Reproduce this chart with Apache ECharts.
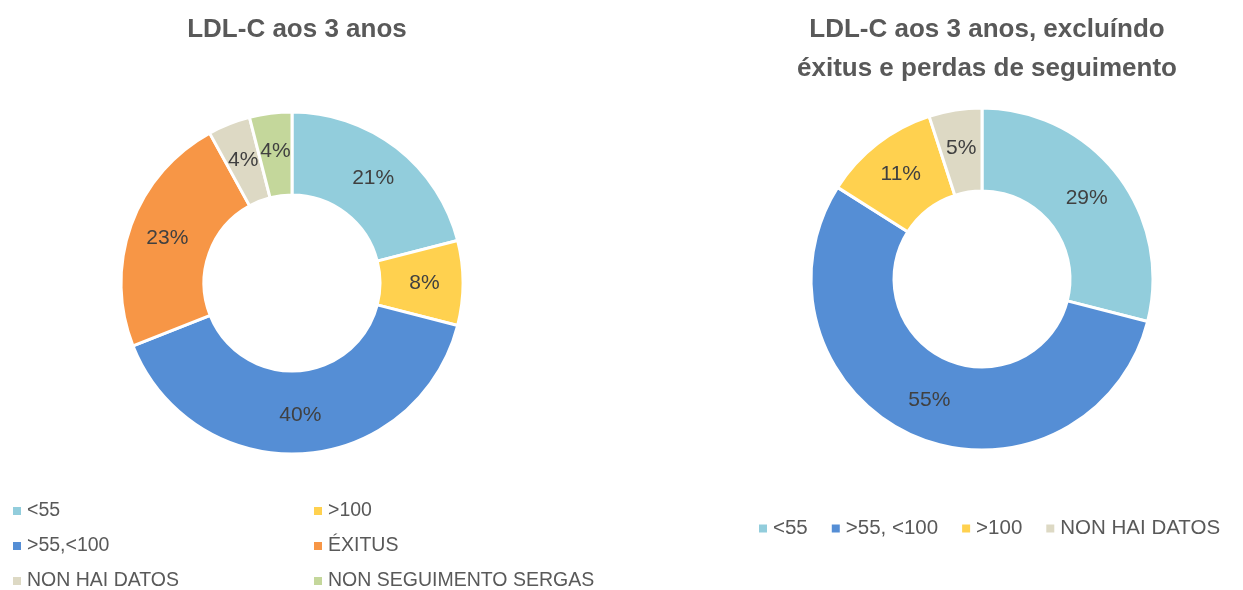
<!DOCTYPE html>
<html>
<head>
<meta charset="utf-8">
<script src="https://cdn.jsdelivr.net/npm/echarts@6/dist/echarts.min.js"></script>
<style>
  html, body { margin: 0; padding: 0; background: #fff; }
  #chart { width: 1243px; height: 590px; }
</style>
</head>
<body>
<div id="chart"></div>
<script>
// left chart: all patients
const leftCategories = ['<55', '>100', '>55,<100', 'ÉXITUS', 'NON HAI DATOS', 'NON SEGUIMENTO SERGAS'];
const leftValues = [21, 8, 40, 23, 4, 4];
const leftColors = ['#92CDDC', '#FFD14F', '#558ED5', '#F79646', '#DDD9C4', '#C4D79B'];

// right chart: excluding deaths and lost follow-up
const rightCategories = ['<55', '>55, <100', '>100', 'NON HAI DATOS'];
const rightValues = [29, 55, 11, 5];
const rightColors = ['#92CDDC', '#558ED5', '#FFD14F', '#DDD9C4'];

const font = 'Liberation Sans';
const grey = '#595959';

const chart = echarts.init(document.getElementById('chart'));

const pieSeries = (cats, vals, colors, center) => ({
    type: 'pie',
    center: center,
    radius: [88, 171],
    startAngle: 90,
    clockwise: true,
    animation: false,
    itemStyle: { borderColor: '#fff', borderWidth: 3 },
    label: {
        show: true,
        position: 'inside',
        formatter: '{c}%',
        fontFamily: font,
        fontSize: 21,
        color: '#404040'
    },
    labelLine: { show: false },
    emphasis: { disabled: true },
    data: cats.map((name, i) => ({ name, value: vals[i], itemStyle: { color: colors[i] } }))
});

const legendBase = {
    icon: 'rect',
    itemWidth: 10,
    itemHeight: 10,
    padding: 0,
    height: 130,
    textStyle: { fontFamily: font, fontSize: 19.5, color: grey }
};

let option = {
    backgroundColor: '#fff',
    title: [{
        text: 'LDL-C aos 3 anos',
        left: 292,
        top: 12,
        textAlign: 'center',
        textStyle: { fontFamily: font, fontSize: 26, fontWeight: 'bold', color: grey }
    }, {
        text: 'LDL-C aos 3 anos, excluíndo\néxitus e perdas de seguimento',
        left: 982,
        top: 5,
        textAlign: 'center',
        textStyle: { fontFamily: font, fontSize: 26, fontWeight: 'bold', color: grey, lineHeight: 39 }
    }],
    legend: [
        Object.assign({}, legendBase, {
            orient: 'vertical',
            left: 11,
            top: 501,
            itemGap: 15,
            data: [leftCategories[0], leftCategories[2], leftCategories[4]]
        }),
        Object.assign({}, legendBase, {
            orient: 'vertical',
            left: 312,
            top: 501,
            itemGap: 15,
            data: [leftCategories[1], leftCategories[3], leftCategories[5]]
        }),
        Object.assign({}, legendBase, {
            orient: 'horizontal',
            left: 757,
            top: 518,
            itemGap: 22,
            textStyle: { fontFamily: font, fontSize: 20.5, color: grey },
            data: rightCategories
        })
    ],
    series: [
        pieSeries(leftCategories, leftValues, leftColors, [292, 283]),
        pieSeries(rightCategories, rightValues, rightColors, [982, 279])
    ]
};

chart.setOption(option);
</script>
</body>
</html>
